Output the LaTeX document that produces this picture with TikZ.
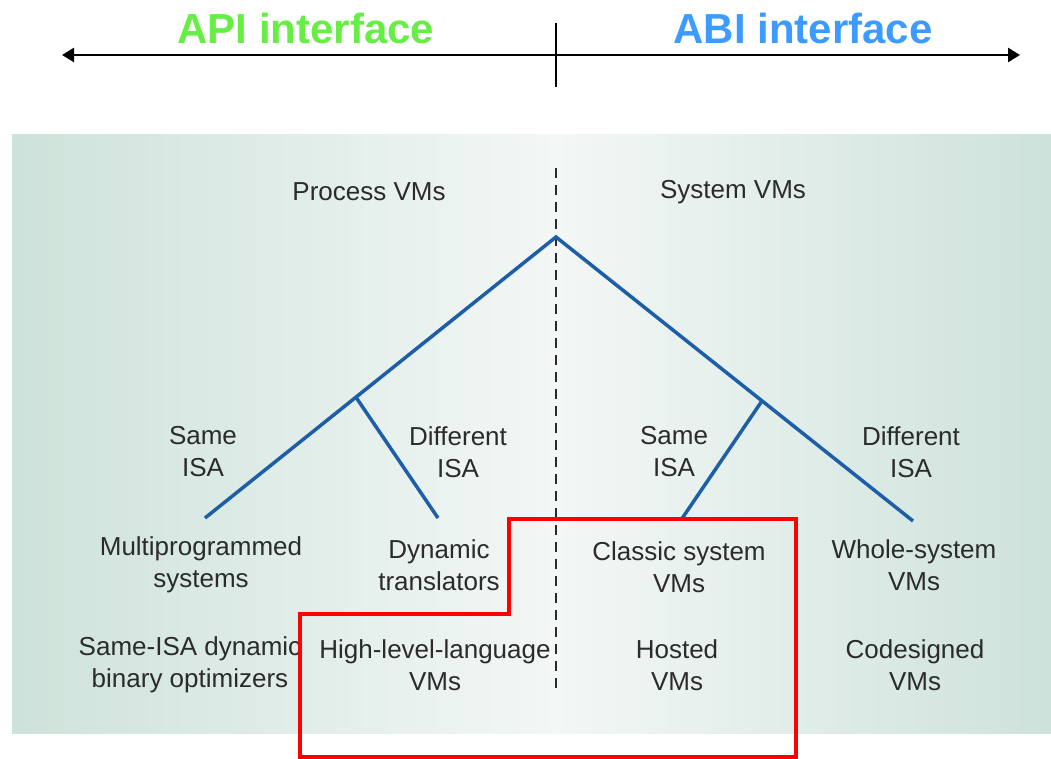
\documentclass[tikz,border=0pt]{standalone}
\usepackage{fontspec}
\setsansfont{Liberation Sans}
\usetikzlibrary{arrows.meta,calc}
\definecolor{apigreen}{HTML}{66EE44}
\definecolor{abiblue}{HTML}{3D9BFF}
\definecolor{panelside}{HTML}{CDE2DA}
\definecolor{panelmid}{HTML}{F3F7F6}
\definecolor{treeblue}{HTML}{1C5EA8}
\definecolor{labelgray}{HTML}{2B2B2B}

\begin{document}
\begin{tikzpicture}[x=1pt,y=-1pt,
  lbl/.style={font=\sffamily\fontsize{26}{32}\selectfont,text=labelgray,align=center,inner sep=0pt},
  head/.style={font=\sffamily\bfseries\fontsize{42}{48}\selectfont,inner sep=0pt},
  branch/.style={treeblue,line width=3.5pt}]
  \useasboundingbox (0,0) rectangle (1051,759);

  % ===== Interface axis =====
  \coordinate (axL) at (62,55);
  \coordinate (axR) at (1020,55);
  \coordinate (tickT) at (556,23);
  \coordinate (tickB) at (556,87);
  \draw[line width=2.5pt,{Triangle[length=12pt,width=14pt]}-{Triangle[length=12pt,width=14pt]}] (axL) -- (axR);
  \draw[line width=2pt] (tickT) -- (tickB);
  \node[head,text=apigreen] (api) at (306,28) {API interface};
  \node[head,text=abiblue] (abi) at (803,28) {ABI interface};

  % ===== Panel =====
  \shade[left color=panelside,right color=panelmid] (12,135) rectangle (556,733);
  \shade[left color=panelmid,right color=panelside] (556,135) rectangle (1051,733);
  \draw[labelgray,line width=1.5pt,dash pattern=on 10pt off 7pt] (556,168) -- (556,695);

  % --- Taxonomy tree ---
  \coordinate (root) at (556,237);
  \coordinate (leafMP) at (205,518);
  \coordinate (leafDT) at (438,518);
  \coordinate (leafCS) at (681,520);
  \coordinate (leafWS) at (913,521);
  \coordinate (pL) at ($(root)!0.57!(leafMP)$);
  \coordinate (pR) at ($(root)!0.577!(leafWS)$);
  \draw[branch] (leafMP) -- (root) -- (leafWS);
  \draw[branch] (pL) -- (leafDT);
  \draw[branch] (pR) -- (leafCS);

  % --- Labels ---
  \node[lbl] (procvm) at (369,192) {Process VMs};
  \node[lbl] (sysvm) at (733,192) {System VMs};
  \node[lbl] (sameL) at (203,452) {Same\\ISA};
  \node[lbl] (diffL) at (458,452) {Different\\ISA};
  \node[lbl] (sameR) at (674,452) {Same\\ISA};
  \node[lbl] (diffR) at (911,452) {Different\\ISA};
  \node[lbl] (multi) at (201,565) {Multiprogrammed\\systems};
  \node[lbl] (dyntr) at (439,565) {Dynamic\\translators};
  \node[lbl] (classic) at (679,567) {Classic system\\VMs};
  \node[lbl] (whole) at (914,565) {Whole-system\\VMs};
  \node[lbl] (binopt) at (190,665) {Same-ISA dynamic\\binary optimizers};
  \node[lbl] (hll) at (435,665) {High-level-language\\VMs};
  \node[lbl] (hosted) at (677,665) {Hosted\\VMs};
  \node[lbl] (codes) at (915,665) {Codesigned\\VMs};

  % --- Highlight ---
  \draw[red,line width=3.5pt] (300,614) -- (300,757) -- (796,757) -- (796,519)
    -- (509,519) -- (509,614) -- cycle;
\end{tikzpicture}
\end{document}
